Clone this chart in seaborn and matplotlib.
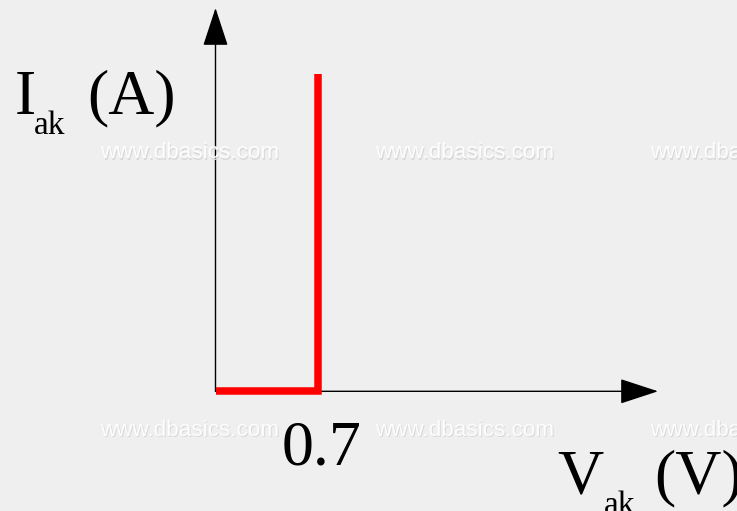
import matplotlib
matplotlib.use("Agg")
import matplotlib.pyplot as plt
import matplotlib.transforms as mtransforms
import seaborn as sns
import pandas as pd

# Ideal diode characteristic: no current until the knee voltage, then vertical
v_ak = [0.0, 0.7, 0.7]
i_ak = [0.0, 0.0, 1.0]
knee_label = "0.7"
y_label = ("I", "ak", "(A)")
x_label = ("V", "ak", "(V)")
watermark = "www.dbasics.com"

W, H = 737, 511
DPI = 100

sns.set_theme(style="white")
plt.rcParams["font.family"] = ["Liberation Serif", "DejaVu Serif"]
plt.rcParams["text.color"] = "black"

fig = plt.figure(figsize=(W / DPI, H / DPI), dpi=DPI)
fig.patch.set_facecolor("#efefef")
ax = fig.add_axes([0, 0, 1, 1])
ax.set_facecolor("#efefef")
ax.set_axis_off()

# pixel layout of the origin and scale
ox, oy = 215.5, 391.3
px_per_v = 146.4
px_per_a = 317.3
ax.set_xlim(-ox / px_per_v, (W - ox) / px_per_v)
ax.set_ylim(-(H - oy) / px_per_a, oy / px_per_a)


def fig_xy(px, py):
    return px / W, 1 - py / H


# tiled, embossed watermark in the backdrop
for ty in (153, 430):
    for tx in (100, 375, 650):
        fx, fy = fig_xy(tx, ty)
        fig.text(fx + 1.2 / W, fy - 1.2 / H, watermark, fontsize=16.2,
                 family="Liberation Sans", color="#d9d9d9",
                 ha="left", va="center", zorder=0)
        fig.text(fx, fy, watermark, fontsize=16.2, family="Liberation Sans",
                 color="#fdfdfd", ha="left", va="center", zorder=0)

# axes with arrowheads
y_tip = (oy - 8) / px_per_a
x_tip = (658 - ox) / px_per_v
arrow = dict(arrowstyle="-|>,head_length=1.22,head_width=0.4",
             mutation_scale=20, lw=1, color="black",
             shrinkA=0, shrinkB=0)
ax.annotate("", xy=(0, y_tip), xytext=(0, 0), arrowprops=arrow, zorder=2)
ax.annotate("", xy=(x_tip, 0), xytext=(0, 0), arrowprops=arrow, zorder=2)

# the characteristic curve
df = pd.DataFrame({"V": v_ak, "I": i_ak})
sns.lineplot(data=df, x="V", y="I", sort=False, estimator=None,
             color="#ff0000", lw=5.4, ax=ax, zorder=3)
for ln in ax.lines:
    ln.set_solid_capstyle("butt")
    ln.set_solid_joinstyle("miter")

big = 46
small = 24

# vertical axis label
fig.text(*fig_xy(15, 113.5), y_label[0], fontsize=big, ha="left",
         va="baseline", color="black")
fig.text(*fig_xy(34, 134), y_label[1], fontsize=small, ha="left",
         va="baseline", color="black")
fig.text(*fig_xy(87, 113.5), y_label[2], fontsize=big, ha="left",
         va="baseline", color="black")

# horizontal axis label
fig.text(*fig_xy(557, 493), x_label[0], fontsize=big, ha="left",
         va="baseline", color="black")
fig.text(*fig_xy(604, 514), x_label[1], fontsize=small, ha="left",
         va="baseline", color="black")
fig.text(*fig_xy(654, 493), x_label[2], fontsize=big, ha="left",
         va="baseline", color="black")

# knee voltage tick label
ax.text(v_ak[1], 0, knee_label, fontsize=big, ha="center", va="baseline",
        color="black",
        transform=ax.transData + mtransforms.ScaledTranslation(
            3.5 / DPI, -(464.5 - oy) / DPI, fig.dpi_scale_trans))

fig.savefig("out.png", dpi=DPI, facecolor=fig.get_facecolor())
